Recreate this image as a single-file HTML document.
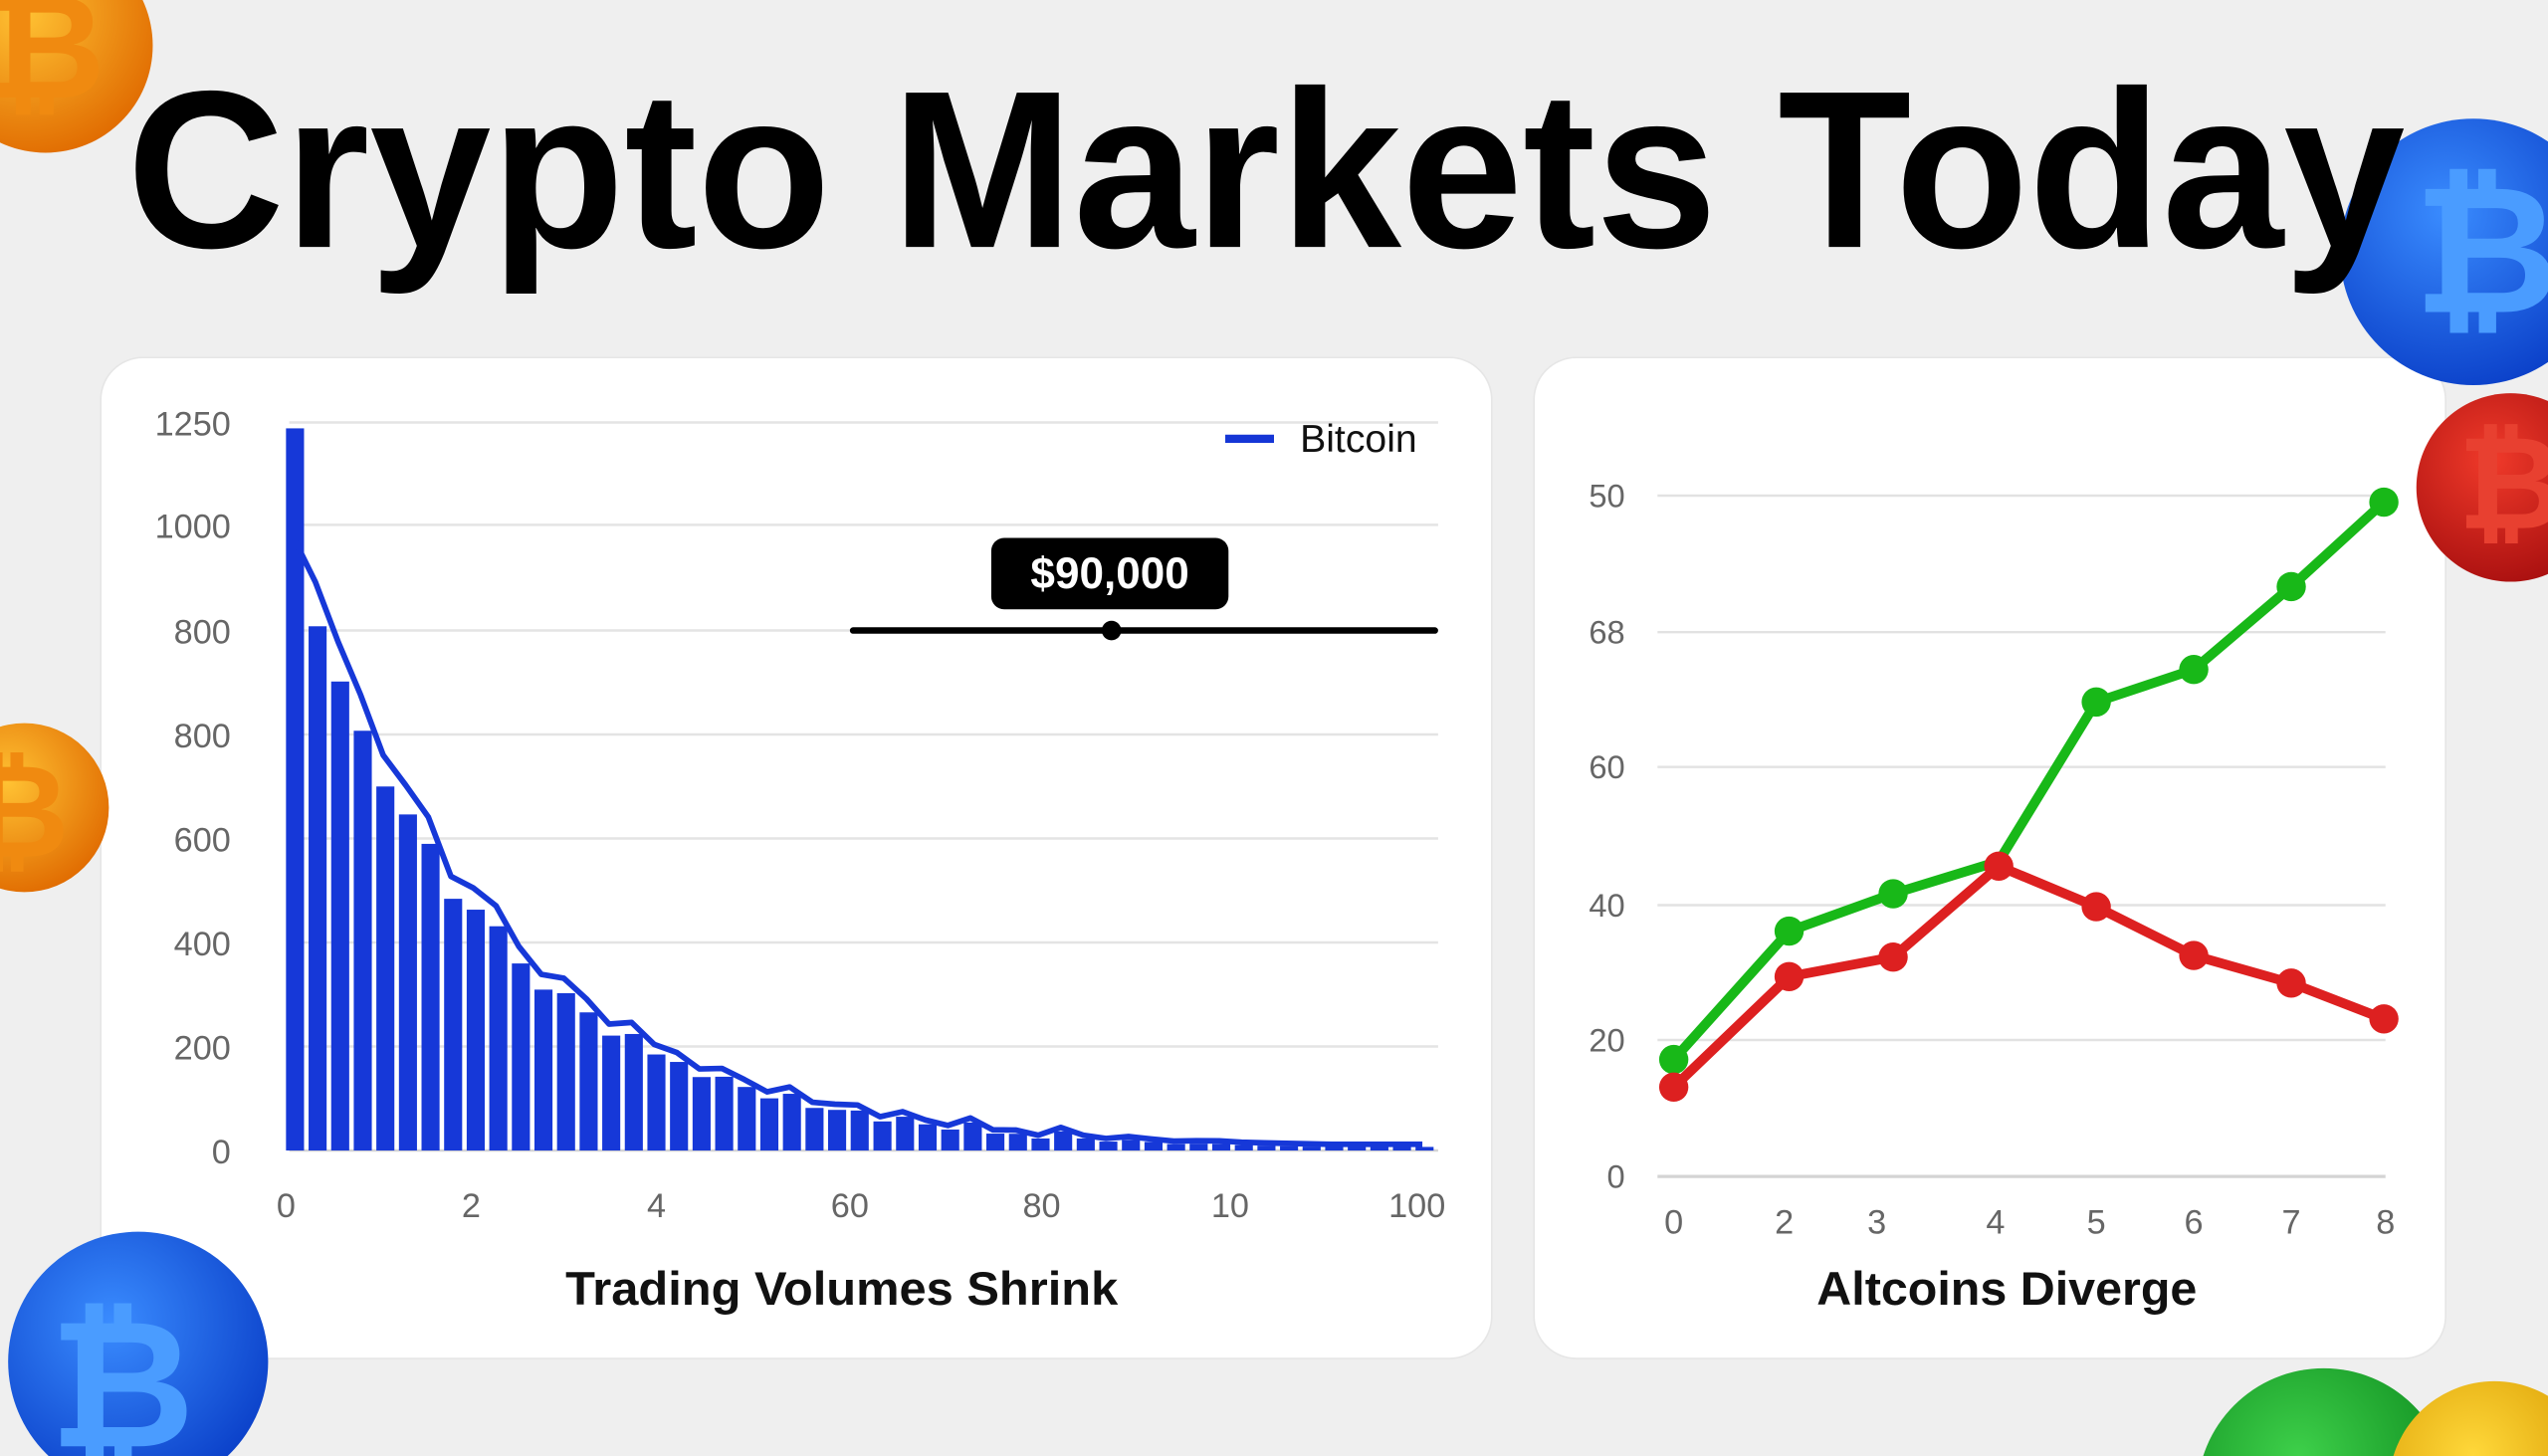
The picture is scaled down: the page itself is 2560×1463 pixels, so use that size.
<!DOCTYPE html>
<html><head><meta charset="utf-8">
<style>
html,body{margin:0;padding:0;background:#efefef;overflow:hidden;width:2560px;height:1463px;}
svg{display:block;}
text{font-family:"Liberation Sans","DejaVu Sans",sans-serif;}
</style></head>
<body>
<svg id="s" width="2560" height="1463" viewBox="0 0 1568 896" preserveAspectRatio="none" xmlns="http://www.w3.org/2000/svg">
<defs>
<radialGradient id="og" cx="40%" cy="35%" r="70%"><stop offset="0" stop-color="#ffc233"/><stop offset="1" stop-color="#e06a00"/></radialGradient>
<radialGradient id="bg" cx="40%" cy="35%" r="70%"><stop offset="0" stop-color="#3a8cff"/><stop offset="1" stop-color="#0a3fc8"/></radialGradient>
<radialGradient id="rg" cx="40%" cy="35%" r="70%"><stop offset="0" stop-color="#f03a2a"/><stop offset="1" stop-color="#a80f0f"/></radialGradient>
<radialGradient id="gg" cx="40%" cy="35%" r="70%"><stop offset="0" stop-color="#3ed04a"/><stop offset="1" stop-color="#0d8a1e"/></radialGradient>
<radialGradient id="yg" cx="40%" cy="35%" r="70%"><stop offset="0" stop-color="#ffd83a"/><stop offset="1" stop-color="#d89a00"/></radialGradient>
</defs>
<rect width="1568" height="896" fill="#efefef"/>
<!-- panels -->
<rect x="62" y="220" width="856" height="616" rx="26" fill="#fff" stroke="#e6e6e6"/>
<rect x="944" y="220" width="561" height="616" rx="26" fill="#fff" stroke="#e6e6e6"/>
<!-- coins -->
<circle cx="1545" cy="300" r="58" fill="url(#rg)"/>
<text x="1545" y="325" font-size="80" font-weight="bold" fill="#e84030" text-anchor="middle">₿</text>
<circle cx="1522" cy="155" r="82" fill="url(#bg)"/>
<text x="1530" y="192" font-size="110" font-weight="bold" fill="#4a9cff" text-anchor="middle">₿</text>
<circle cx="28" cy="28" r="66" fill="url(#og)"/>
<text x="28" y="60" font-size="90" font-weight="bold" fill="#f08a10" text-anchor="middle">₿</text>
<circle cx="15" cy="497" r="52" fill="url(#og)"/>
<text x="10" y="527" font-size="80" font-weight="bold" fill="#f08a10" text-anchor="middle">₿</text>
<circle cx="85" cy="838" r="80" fill="url(#bg)"/>
<text x="75" y="890" font-size="110" font-weight="bold" fill="#4a9cff" text-anchor="middle">₿</text>
<circle cx="1430" cy="920" r="78" fill="url(#gg)"/>
<circle cx="1535" cy="915" r="65" fill="url(#yg)"/>
<!-- title -->
<text x="78" y="152" font-size="138" font-weight="bold" fill="#000" textLength="1402" lengthAdjust="spacingAndGlyphs">Crypto Markets Today</text>
<g id="left"></g>
<!-- legend -->
<line x1="754" y1="270" x2="784" y2="270" stroke="#1536d6" stroke-width="5"/>
<text x="800" y="278" font-size="24" fill="#111">Bitcoin</text>
<!-- tooltip -->
<line x1="525" y1="388" x2="883" y2="388" stroke="#000" stroke-width="4" stroke-linecap="round"/>
<circle cx="684" cy="388" r="6" fill="#000"/>
<rect x="610" y="331" width="146" height="44" rx="8" fill="#000"/>
<text x="683" y="362" font-size="27" font-weight="bold" fill="#fff" text-anchor="middle">$90,000</text>
<text x="518" y="803" font-size="29" fill="#111" text-anchor="middle" font-weight="bold" textLength="340" lengthAdjust="spacingAndGlyphs">Trading Volumes Shrink</text>
<!-- right chart -->
<g stroke="#e2e2e2" stroke-width="1.5">
<line x1="1020" y1="305" x2="1468" y2="305"/><line x1="1020" y1="389" x2="1468" y2="389"/>
<line x1="1020" y1="472" x2="1468" y2="472"/><line x1="1020" y1="557" x2="1468" y2="557"/>
<line x1="1020" y1="640" x2="1468" y2="640"/><line x1="1020" y1="724" x2="1468" y2="724" stroke="#d4d4d4" stroke-width="2"/>
</g>
<g font-size="20" fill="#666" text-anchor="end">
<text x="1000" y="312">50</text><text x="1000" y="396">68</text><text x="1000" y="479">60</text>
<text x="1000" y="564">40</text><text x="1000" y="647">20</text><text x="1000" y="731">0</text>
</g>
<g font-size="21" fill="#666" text-anchor="middle">
<text x="1030" y="759">0</text><text x="1098" y="759">2</text><text x="1155" y="759">3</text><text x="1228" y="759">4</text>
<text x="1290" y="759">5</text><text x="1350" y="759">6</text><text x="1410" y="759">7</text><text x="1468" y="759">8</text>
</g>
<polyline fill="none" stroke="#18b818" stroke-width="6" stroke-linejoin="round" points="1030,652 1101,573 1165,550 1230,530 1290,432 1350,412 1410,361 1467,309"/>
<polyline fill="none" stroke="#dd2020" stroke-width="6" stroke-linejoin="round" points="1030,669 1101,601 1165,589 1230,533 1290,558 1350,588 1410,605 1467,627"/>
<g fill="#18b818"><circle cx="1030" cy="652" r="9"/><circle cx="1101" cy="573" r="9"/><circle cx="1165" cy="550" r="9"/><circle cx="1290" cy="432" r="9"/><circle cx="1350" cy="412" r="9"/><circle cx="1410" cy="361" r="9"/><circle cx="1467" cy="309" r="9"/></g>
<g fill="#dd2020"><circle cx="1030" cy="669" r="9"/><circle cx="1101" cy="601" r="9"/><circle cx="1165" cy="589" r="9"/><circle cx="1230" cy="533" r="9"/><circle cx="1290" cy="558" r="9"/><circle cx="1350" cy="588" r="9"/><circle cx="1410" cy="605" r="9"/><circle cx="1467" cy="627" r="9"/></g>
<text x="1235" y="803" font-size="29" fill="#111" text-anchor="middle" font-weight="bold" textLength="234" lengthAdjust="spacingAndGlyphs">Altcoins Diverge</text>
</svg>
<script>
(function(){
var g=document.getElementById('left'),h='';
var ys=[[260,'1250'],[323,'1000'],[388,'800'],[452,'800'],[516,'600'],[580,'400'],[644,'200'],[708,'0']];
ys.forEach(function(a){h+='<line x1="178" y1="'+a[0]+'" x2="885" y2="'+a[0]+'" stroke="'+(a[1]=='0'?'#d4d4d4':'#e4e4e4')+'" stroke-width="1.5"/>';
h+='<text x="142" y="'+(a[0]+8)+'" font-size="21" fill="#666" text-anchor="end">'+a[1]+'</text>';});
var xs=[[176,'0'],[290,'2'],[404,'4'],[523,'60'],[641,'80'],[757,'10'],[872,'100']];
xs.forEach(function(a){h+='<text x="'+a[0]+'" y="749" font-size="21" fill="#666" text-anchor="middle">'+a[1]+'</text>';});
var n=51,p=(885-176)/n,sc=0.3584,pts=[];
var noise=[0,0,0,0,-20,0,10,-30,0,15,-10,-20,5,0,-15,10,-5,0,-10,5,0,-8,10,-5,0,6,-6,8,0,-4,12,-3,0,-5,10,0,-3,2,0,-2,0,1,0,0,0,0,0,0,0,0,0];
for(var i=0;i<n;i++){
 var v=i==0?1240:900*Math.exp(-(i-1)/9)+noise[i];
 if(v<6)v=6;
 var x=176+i*p,y=708-v*sc;
 h+='<rect x="'+x.toFixed(1)+'" y="'+y.toFixed(1)+'" width="'+(p*0.8).toFixed(1)+'" height="'+(708-y).toFixed(1)+'" fill="#1638d8"/>';
 if(i>0)pts.push((x+p*0.3).toFixed(1)+','+(708-Math.max(v*1.08+4,4)*sc).toFixed(1));
}
pts.unshift('181,'+(708-1050*sc).toFixed(1));
h+='<polyline fill="none" stroke="#1638d8" stroke-width="3.5" stroke-linejoin="round" points="'+pts.join(' ')+'"/>';
g.innerHTML=h;
})();
</script>
</body></html>
